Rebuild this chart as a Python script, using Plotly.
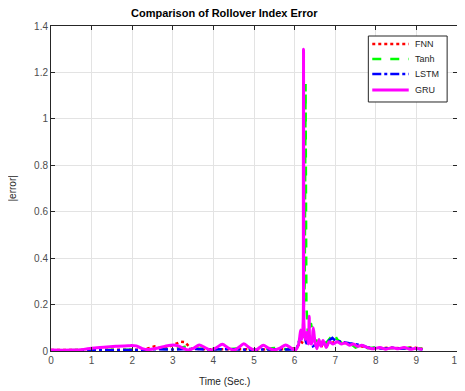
import plotly.graph_objects as go

# ---------------- data ----------------
gru_t = [0, 0.5, 0.8, 1.0, 1.3, 1.6, 1.9, 2.1, 2.25, 2.4, 2.6, 2.8, 2.95, 3.1, 3.25, 3.38,
         3.52, 3.65, 3.8, 3.93, 4.07, 4.22, 4.36, 4.5, 4.62, 4.75, 4.88, 5.0, 5.1, 5.23,
         5.36, 5.5, 5.64, 5.78, 5.92, 6.02, 6.1, 6.15, 6.18, 6.21, 6.22, 6.23, 6.26, 6.3,
         6.34, 6.36, 6.38, 6.42, 6.46, 6.5, 6.55, 6.6, 6.65, 6.7, 6.78, 6.85, 6.95, 7.05,
         7.15, 7.25, 7.35, 7.45, 7.55, 7.65, 7.75, 7.85, 7.95, 8.1, 8.25, 8.4, 8.55, 8.7,
         8.85, 9.0, 9.15]
gru_y = [0.004, 0.004, 0.007, 0.012, 0.016, 0.020, 0.023, 0.022, 0.010, 0.006, 0.012, 0.020,
         0.025, 0.024, 0.012, 0.004, 0.012, 0.026, 0.014, 0.004, 0.014, 0.029, 0.014, 0.004,
         0.015, 0.031, 0.015, 0.004, 0.010, 0.025, 0.012, 0.004, 0.012, 0.026, 0.012, 0.004,
         0.030, 0.090, 0.050, 0.120, 1.300, 0.120, 0.050, 0.080, 0.030, 0.150, 0.040, 0.030,
         0.100, 0.040, 0.010, 0.050, 0.020, 0.045, 0.015, 0.040, 0.030, 0.040, 0.030, 0.035,
         0.025, 0.030, 0.020, 0.025, 0.018, 0.012, 0.010, 0.015, 0.008, 0.014, 0.010, 0.015,
         0.008, 0.012, 0.006]

tanh_t = [0, 0.6, 1.2, 1.8, 2.3, 2.6, 3.0, 3.3, 3.6, 3.95, 4.2, 4.5, 4.8, 5.0, 5.3, 5.5,
          5.8, 6.0, 6.1, 6.2, 6.25, 6.27, 6.29, 6.33, 6.4, 6.45, 6.5, 6.6, 6.7, 6.8, 6.9,
          6.97, 7.05, 7.2, 7.35, 7.5, 7.65, 7.8, 8.0, 8.2, 8.4, 8.5, 8.65, 8.8, 9.0, 9.15]
tanh_y = [0.003, 0.004, 0.004, 0.005, 0.006, 0.010, 0.008, 0.018, 0.010, 0.012, 0.006, 0.010,
          0.014, 0.005, 0.010, 0.013, 0.008, 0.012, 0.040, 0.060, 0.300, 1.150, 0.200, 0.060,
          0.120, 0.080, 0.040, 0.050, 0.030, 0.040, 0.060, 0.075, 0.050, 0.030, 0.035, 0.015,
          0.025, 0.012, 0.015, 0.010, 0.012, 0.020, 0.010, 0.014, 0.016, 0.008]

lstm_t = [0, 0.6, 1.2, 1.8, 2.2, 2.6, 3.0, 3.4, 3.9, 4.4, 4.9, 5.4, 5.9, 6.05, 6.12, 6.18,
          6.24, 6.3, 6.36, 6.45, 6.55, 6.7, 6.85, 6.93, 7.0, 7.1, 7.2, 7.35, 7.5, 7.65, 7.8,
          8.0, 8.2, 8.4, 8.6, 8.8, 9.0, 9.15]
lstm_y = [0.003, 0.003, 0.005, 0.006, 0.004, 0.008, 0.006, 0.009, 0.006, 0.008, 0.005,
          0.007, 0.006, 0.010, 0.050, 0.080, 0.060, 0.030, 0.050, 0.020, 0.030, 0.025, 0.045,
          0.056, 0.045, 0.040, 0.038, 0.033, 0.030, 0.025, 0.015, 0.012, 0.010, 0.014, 0.010,
          0.012, 0.010, 0.008]

fnn_t = [0, 0.6, 1.2, 1.8, 2.3, 2.55, 2.7, 2.9, 3.1, 3.2, 3.3, 3.45, 3.8, 4.3, 4.8, 5.3,
         5.8, 6.05, 6.15, 6.25, 6.35, 6.5, 6.7, 6.9, 7.05, 7.2, 7.4, 7.6, 7.8, 8.0, 8.3,
         8.6, 8.9, 9.15]
fnn_y = [0.004, 0.005, 0.005, 0.006, 0.006, 0.020, 0.012, 0.018, 0.035, 0.040, 0.038, 0.010,
         0.008, 0.007, 0.009, 0.007, 0.008, 0.012, 0.040, 0.030, 0.050, 0.030, 0.020, 0.035,
         0.040, 0.035, 0.030, 0.020, 0.015, 0.012, 0.014, 0.012, 0.015, 0.010]

series_names = ["FNN", "Tanh", "LSTM", "GRU"]
x_ticks = [0, 1, 2, 3, 4, 5, 6, 7, 8, 9, 10]
y_ticks = [0, 0.2, 0.4, 0.6, 0.8, 1.0, 1.2, 1.4]
y_tick_labels = ["0", "0.2", "0.4", "0.6", "0.8", "1", "1.2", "1.4"]

# ---------------- figure ----------------
FONT = "Liberation Sans, Arial, Helvetica, sans-serif"
styles = [dict(color="#ff0000", width=2.5, dash="dot"),
          dict(color="#00ff00", width=2.5, dash="dash"),
          dict(color="#0000ff", width=2.5, dash="dashdot"),
          dict(color="#ff00ff", width=3, dash="solid")]

fig = go.Figure()
fig.add_trace(go.Scatter(x=fnn_t, y=fnn_y, name=series_names[0], mode="lines", line=styles[0]))
fig.add_trace(go.Scatter(x=tanh_t, y=tanh_y, name=series_names[1], mode="lines", line=styles[1]))
fig.add_trace(go.Scatter(x=lstm_t, y=lstm_y, name=series_names[2], mode="lines", line=styles[2]))
fig.add_trace(go.Scatter(x=gru_t, y=gru_y, name=series_names[3], mode="lines",
                         line=dict(styles[3], shape="spline", smoothing=0.8)))

axis_common = dict(showgrid=True, gridcolor="#e3e3e3", gridwidth=1, zeroline=False,
                   showline=True, linecolor="#262626", linewidth=1, mirror="ticks",
                   ticks="inside", ticklen=4, tickcolor="#262626",
                   tickfont=dict(family=FONT, size=10, color="#4d4d4d"))

fig.update_xaxes(range=[0, 10], tickvals=x_ticks, **axis_common)
fig.update_yaxes(range=[0, 1.4], tickvals=y_ticks, ticktext=y_tick_labels, **axis_common)

# manual legend (paper coordinates)
shapes = [dict(type="rect", xref="paper", yref="paper", x0=0.7816, x1=0.9757,
               y0=0.7662, y1=0.9692, line=dict(color="#262626", width=1),
               fillcolor="white", layer="above")]
annotations = []
row_y = [0.9446, 0.8985, 0.8523, 0.8031]
for name, st, yy in zip(series_names, styles, row_y):
    shapes.append(dict(type="line", xref="paper", yref="paper", x0=0.7913, x1=0.8811,
                       y0=yy, y1=yy, line=dict(color=st["color"], width=st["width"],
                                               dash=st["dash"]), layer="above"))
    annotations.append(dict(text=name, xref="paper", yref="paper", x=0.8908, y=yy,
                            xanchor="left", yanchor="middle", showarrow=False,
                            font=dict(family=FONT, size=9, color="#262626")))

annotations += [
    dict(text="<b>Comparison of Rollover Index Error</b>", xref="paper", yref="paper",
         x=0.427, y=1.0, yshift=13, showarrow=False, xanchor="center", yanchor="middle",
         font=dict(family=FONT, size=11, color="#000000")),
    dict(text="Time (Sec.)", xref="paper", yref="paper", x=0.427, y=0, yshift=-30,
         showarrow=False, xanchor="center", yanchor="middle",
         font=dict(family=FONT, size=10, color="#262626")),
    dict(text="|error|", xref="paper", yref="paper", x=0, xshift=-39, y=0.5,
         textangle=-90, showarrow=False, xanchor="center", yanchor="middle",
         font=dict(family=FONT, size=10, color="#262626")),
]

# the page adds an 8px body margin, so the margins are offset by 8px
fig.update_layout(
    width=465, height=391,
    margin=dict(l=43, r=10, t=18, b=48),
    paper_bgcolor="white", plot_bgcolor="white",
    showlegend=False,
    shapes=shapes,
    annotations=annotations,
)

fig.write_html("out.html")
